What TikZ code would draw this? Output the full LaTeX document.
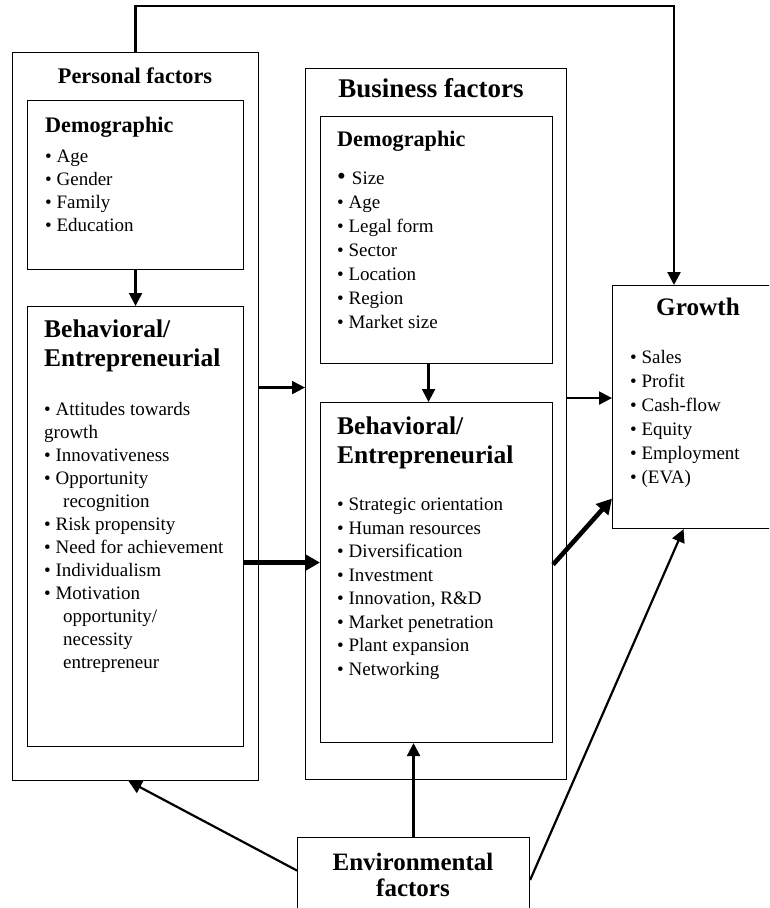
\documentclass[tikz,border=0pt]{standalone}
\usepackage{fontspec}
\setmainfont{Liberation Serif}
\usetikzlibrary{arrows.meta}

\begin{document}
\begin{tikzpicture}[x=1pt, y=-1pt,
  box/.style={draw, line width=1.1pt, inner sep=0pt, anchor=north west},
  arr/.style={-{Triangle[length=13pt, width=13pt]}, line width=2.2pt},
  thickarr/.style={-{Triangle[length=15pt, width=16pt]}, line width=4.6pt},
  lista/.style={anchor=north west, align=left, inner sep=0pt, font=\fontsize{19}{23}\selectfont},
  titulo/.style={anchor=north west, align=left, inner sep=0pt, font=\bfseries\fontsize{25.5}{29}\selectfont}]
\useasboundingbox (0,0) rectangle (769,908);
\clip (0,0) rectangle (769,908);

% caixas
\node[box, minimum width=246pt, minimum height=728pt] (personal) at (12,52) {};
\node[box, minimum width=216pt, minimum height=169pt] (pdemo) at (27,100) {};
\node[box, minimum width=216pt, minimum height=440pt] (pbeh) at (27,306) {};
\node[box, minimum width=261pt, minimum height=711pt] (business) at (305,68) {};
\node[box, minimum width=232pt, minimum height=247pt] (bdemo) at (320,116) {};
\node[box, minimum width=232pt, minimum height=340pt] (bbeh) at (320,402) {};
\node[box, minimum width=172pt, minimum height=243pt] (growth) at (612,285) {};
\node[box, minimum width=232pt, minimum height=85pt] (env) at (297,837) {};

% textos dos fatores pessoais
\node[font=\bfseries\fontsize{22.3}{26}\selectfont] (tPersonal) at (135,76) {Personal factors};
\node[titulo, font=\bfseries\fontsize{22.2}{26}\selectfont] (tPdemo) at (45,117) {Demographic};
\node[lista] (lPdemo) at (45,150) {\textbullet\ Age\\ \textbullet\ Gender\\ \textbullet\ Family\\ \textbullet\ Education};
\node[titulo] (tPbeh) at (44,320) {Behavioral/\\Entrepreneurial};
\node[lista] (lPbeh) at (44,402) {\textbullet\ Attitudes towards\\growth\\ \textbullet\ Innovativeness\\ \textbullet\ Opportunity\\ \hspace*{19pt}recognition\\ \textbullet\ Risk propensity\\ \textbullet\ Need for achievement\\ \textbullet\ Individualism\\ \textbullet\ Motivation\\ \hspace*{19pt}opportunity/\\ \hspace*{19pt}necessity\\ \hspace*{19pt}entrepreneur};

% textos dos fatores do negocio
\node[font=\bfseries\fontsize{27}{30}\selectfont] (tBusiness) at (431,88) {Business factors};
\node[titulo, font=\bfseries\fontsize{22.2}{26}\selectfont] (tBdemo) at (337,131) {Demographic};
\node[lista, font=\fontsize{19}{24}\selectfont] (lBdemo) at (337,172) {{\fontsize{25}{24}\selectfont\textbullet}\hspace{6pt}Size\\ \textbullet\ Age\\ \textbullet\ Legal form\\ \textbullet\ Sector\\ \textbullet\ Location\\ \textbullet\ Region\\ \textbullet\ Market size};
\node[titulo] (tBbeh) at (337,417) {Behavioral/\\Entrepreneurial};
\node[lista, font=\fontsize{19}{23.5}\selectfont] (lBbeh) at (337,498) {\textbullet\ Strategic orientation\\ \textbullet\ Human resources\\ \textbullet\ Diversification\\ \textbullet\ Investment\\ \textbullet\ Innovation, R\&D\\ \textbullet\ Market penetration\\ \textbullet\ Plant expansion\\ \textbullet\ Networking};

% crescimento e ambiente
\node[font=\bfseries\fontsize{25.2}{28}\selectfont] (tGrowth) at (698,307) {Growth};
\node[lista, font=\fontsize{19}{24}\selectfont] (lGrowth) at (630,350) {\textbullet\ Sales\\ \textbullet\ Profit\\ \textbullet\ Cash-flow\\ \textbullet\ Equity\\ \textbullet\ Employment\\ \textbullet\ (EVA)};
\node[font=\bfseries\fontsize{25}{26}\selectfont, align=center, anchor=north, inner sep=0pt] (tEnv) at (413,853) {Environmental\\factors};

% setas
\coordinate (canto) at (674,6);
\draw[arr] (personal.north) |- (canto) -- (canto |- growth.north);
\draw[arr] (pdemo.south) -- (pbeh.north);
\draw[arr] ([xshift=-8pt]bdemo.south) -- ([xshift=-8pt]bbeh.north);
\draw[arr] ([yshift=29pt]personal.east) -- ([yshift=29pt]personal.east -| business.west);
\draw[thickarr] ([yshift=-36pt]pbeh.east) -- ([yshift=-36pt]pbeh.east -| bbeh.west);
\draw[arr] ([yshift=26pt]business.east) -- ([yshift=26pt]business.east -| growth.west);
\draw[thickarr] ([yshift=8pt]bbeh.east) -- ([yshift=-91.5pt]growth.west);
\draw[arr] (env.north) -- (env.north |- bbeh.south);
\draw[arr] ([yshift=9.5pt]env.west) -- ([xshift=-7pt]personal.south);
\draw[arr] (env.east) -- ([xshift=-15pt]growth.south);

\end{tikzpicture}
\end{document}
